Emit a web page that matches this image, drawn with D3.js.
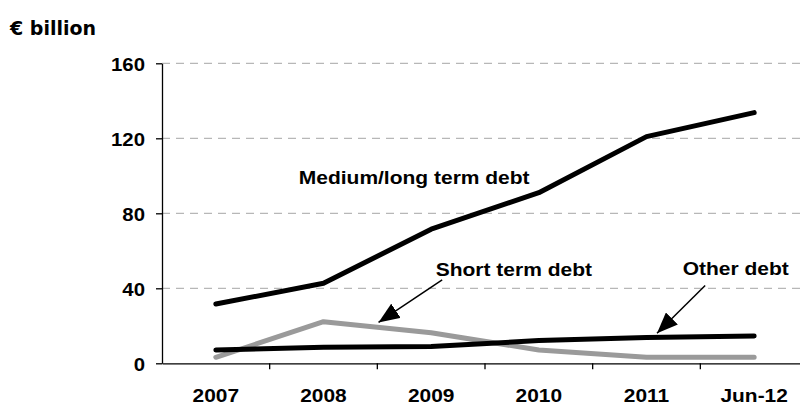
<!DOCTYPE html>
<html>
<head>
<meta charset="utf-8">
<script src="https://cdn.jsdelivr.net/npm/d3@7"></script>
<style>
  body { margin: 0; background: #fff; }
  svg { display: block; }
  text { font-family: "Liberation Sans", Arial, Helvetica, sans-serif; font-weight: bold; fill: #000; }
</style>
</head>
<body>
<svg id="chart" width="800" height="405"></svg>
<script>
const categories = ["2007", "2008", "2009", "2010", "2011", "Jun-12"];
const mediumLongTerm = [31.6, 42.7, 71.5, 91, 120.9, 133.7];
const shortTerm = [3.2, 22.2, 16.3, 7.1, 3.2, 3.2];
const otherDebt = [7.1, 8.5, 8.9, 12.1, 13.7, 14.6];
const yTicks = [0, 40, 80, 120, 160];
const unitLabel = "€ billion";
const annotations = [
  { text: "Medium/long term debt", cat: "2009", value: 95.5, dx: -17, arrow: null },
  { text: "Short term debt", cat: "2010", value: 46.5, dx: -25, arrow: { fromCat: "2009", fromV: 44.5, fromDx: 11, toCat: "2008", toV: 21.8, toDx: 55 } },
  { text: "Other debt", cat: "Jun-12", value: 47, dx: -18.5, arrow: { fromCat: "Jun-12", fromV: 41.5, fromDx: -49, toCat: "2011", toV: 16, toDx: 10.5 } }
];

(function () {
const svg = d3.select("#chart");
const mLeft = 162, mRight = 808, mTop = 63.3, mBottom = 363.3;

const x = d3.scaleBand().domain(categories).range([mLeft, mRight]).paddingInner(0).paddingOuter(0);
const y = d3.scaleLinear().domain([0, 160]).range([mBottom, mTop]);
const cx = c => x(c) + x.bandwidth() / 2;

// gridlines
svg.append("g").selectAll("line").data(yTicks.filter(t => t > 0)).join("line")
  .attr("x1", mLeft).attr("x2", 800)
  .attr("y1", d => y(d)).attr("y2", d => y(d))
  .attr("stroke", "#a6a6a6").attr("stroke-width", 1).attr("stroke-dasharray", "8,6");

// y axis
const yAxis = svg.append("g").attr("transform", `translate(${mLeft},0)`)
  .call(d3.axisLeft(y).tickValues(yTicks).tickSize(6).tickSizeOuter(0).tickFormat(d3.format("d")));
yAxis.select(".domain").attr("stroke", "#000").attr("stroke-width", 1.3);
yAxis.selectAll(".tick line").attr("stroke", "#000").attr("stroke-width", 1.3);
yAxis.selectAll(".tick text")
  .attr("x", null).attr("dy", null).attr("text-anchor", "end")
  .style("font-size", "18.5px")
  .attr("transform", "translate(-17,6.7) scale(1.1,1)");

// x axis
const xAxis = svg.append("g").attr("transform", `translate(0,${mBottom})`)
  .call(d3.axisBottom(x).tickSize(0).tickSizeOuter(0));
xAxis.select(".domain").attr("stroke", "#000").attr("stroke-width", 1.3);
xAxis.selectAll(".tick text")
  .attr("y", null).attr("dy", null).attr("text-anchor", "middle")
  .style("font-size", "19px")
  .attr("transform", "translate(0,39) scale(1.1,1)");
// boundary tick marks
xAxis.append("g").selectAll("line").data(categories.slice(1)).join("line")
  .attr("x1", d => x(d)).attr("x2", d => x(d))
  .attr("y1", 0).attr("y2", 6)
  .attr("stroke", "#000").attr("stroke-width", 1.3);

// lines
const line = d3.line().x(d => cx(d.c)).y(d => y(d.v));
const mk = arr => categories.map((c, i) => ({ c, v: arr[i] }));
svg.append("path").datum(mk(shortTerm)).attr("d", line)
  .attr("fill", "none").attr("stroke", "#9a9a9a").attr("stroke-width", 5)
  .attr("stroke-linejoin", "round").attr("stroke-linecap", "round");
svg.append("path").datum(mk(otherDebt)).attr("d", line)
  .attr("fill", "none").attr("stroke", "#000").attr("stroke-width", 5)
  .attr("stroke-linejoin", "round").attr("stroke-linecap", "round");
svg.append("path").datum(mk(mediumLongTerm)).attr("d", line)
  .attr("fill", "none").attr("stroke", "#000").attr("stroke-width", 5)
  .attr("stroke-linejoin", "round").attr("stroke-linecap", "round");

// arrow marker
svg.append("defs").append("marker")
  .attr("id", "arrow").attr("viewBox", "0 0 21 17")
  .attr("refX", 21).attr("refY", 8.5)
  .attr("markerWidth", 21).attr("markerHeight", 17)
  .attr("markerUnits", "userSpaceOnUse")
  .attr("orient", "auto")
  .append("path").attr("d", "M0,0 L21,8.5 L0,17 Z").attr("fill", "#000");

// annotations
annotations.forEach(a => {
  svg.append("text")
    .attr("text-anchor", "middle")
    .style("font-size", "17.5px")
    .attr("transform", `translate(${cx(a.cat) + a.dx},${y(a.value)}) scale(1.2,1)`)
    .text(a.text);
  if (a.arrow) {
    svg.append("line")
      .attr("x1", cx(a.arrow.fromCat) + a.arrow.fromDx).attr("y1", y(a.arrow.fromV))
      .attr("x2", cx(a.arrow.toCat) + a.arrow.toDx).attr("y2", y(a.arrow.toV))
      .attr("stroke", "#000").attr("stroke-width", 1.5)
      .attr("marker-end", "url(#arrow)");
  }
});

// unit label
svg.append("text").attr("x", 10).attr("y", 35)
  .style("font-family", "'DejaVu Sans', Verdana, sans-serif")
  .style("font-size", "19px")
  .text(unitLabel);
})();
</script>
</body>
</html>
